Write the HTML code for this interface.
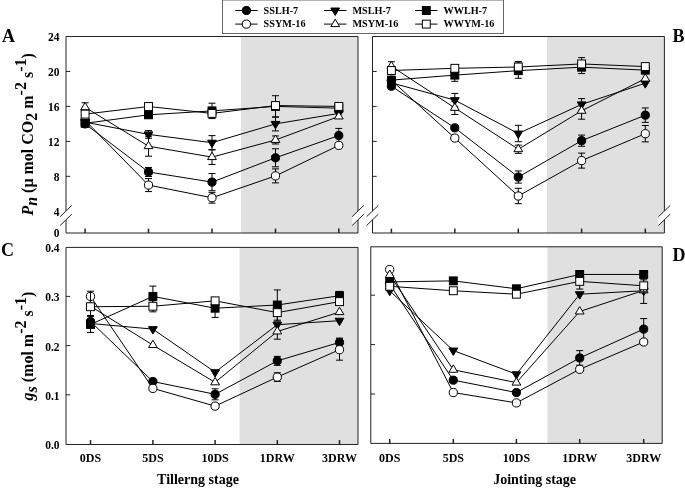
<!DOCTYPE html>
<html><head><meta charset="utf-8"><style>
html,body{margin:0;padding:0;background:#fff;}
svg{display:block;}
text{font-family:"Liberation Serif", serif;font-weight:bold;fill:#000;}
svg{will-change:transform;}
</style></head><body>
<svg width="685" height="488" viewBox="0 0 685 488">
<rect width="685" height="488" fill="#fff"/>
<rect x="222.5" y="0" width="281" height="33.5" fill="#fff" stroke="#666" stroke-width="1"/>
<path d="M235.20,10.50H257.60" stroke="#000" stroke-width="1"/>
<circle cx="246.40" cy="10.50" r="4.1" fill="#000" stroke="#000" stroke-width="1"/>
<text x="263.6" y="13.8" font-size="10.2" text-anchor="start" >SSLH-7</text>
<path d="M235.20,24.10H257.60" stroke="#000" stroke-width="1"/>
<circle cx="246.40" cy="24.10" r="4.1" fill="#fff" stroke="#000" stroke-width="1"/>
<text x="263.6" y="27.400000000000002" font-size="10.2" text-anchor="start" >SSYM-16</text>
<path d="M324.00,10.50H346.40" stroke="#000" stroke-width="1"/>
<path d="M330.80,8.03L339.60,8.03L335.20,15.43Z" fill="#000" stroke="#000" stroke-width="1" stroke-linejoin="miter"/>
<text x="352.4" y="13.8" font-size="10.2" text-anchor="start" >MSLH-7</text>
<path d="M324.00,24.10H346.40" stroke="#000" stroke-width="1"/>
<path d="M330.80,26.57L339.60,26.57L335.20,19.17Z" fill="#fff" stroke="#000" stroke-width="1" stroke-linejoin="miter"/>
<text x="352.4" y="27.400000000000002" font-size="10.2" text-anchor="start" >MSYM-16</text>
<path d="M415.10,10.50H437.50" stroke="#000" stroke-width="1"/>
<rect x="422.35" y="6.55" width="7.9" height="7.9" fill="#000" stroke="#000" stroke-width="1"/>
<text x="443.5" y="13.8" font-size="10.2" text-anchor="start" >WWLH-7</text>
<path d="M415.10,24.10H437.50" stroke="#000" stroke-width="1"/>
<rect x="422.35" y="20.15" width="7.9" height="7.9" fill="#fff" stroke="#000" stroke-width="1"/>
<text x="443.5" y="27.400000000000002" font-size="10.2" text-anchor="start" >WWYM-16</text>
<rect x="241" y="36.5" width="117.0" height="196.5" fill="#e0e0e0"/>
<path d="M66,36.5H358.0V233H66Z" fill="none" stroke="#222" stroke-width="1"/>
<path d="M85.10,233V228.6" stroke="#222" stroke-width="1.5"/>
<path d="M148.50,233V228.6" stroke="#222" stroke-width="1.5"/>
<path d="M212.00,233V228.6" stroke="#222" stroke-width="1.5"/>
<path d="M275.50,233V228.6" stroke="#222" stroke-width="1.5"/>
<path d="M338.80,233V228.6" stroke="#222" stroke-width="1.5"/>
<path d="M85.10,123.90L148.50,171.97L212.00,182.11L275.50,157.81L338.80,135.52" fill="none" stroke="#000" stroke-width="1"/>
<path d="M148.50,171.97V167.47M145.00,167.47H152.00" stroke="#000" stroke-width="1" fill="none"/>
<path d="M148.50,171.97V176.47M145.00,176.47H152.00" stroke="#000" stroke-width="1" fill="none"/>
<path d="M212.00,182.11V173.51M208.50,173.51H215.50" stroke="#000" stroke-width="1" fill="none"/>
<path d="M212.00,182.11V190.71M208.50,190.71H215.50" stroke="#000" stroke-width="1" fill="none"/>
<path d="M275.50,157.81V148.81M272.00,148.81H279.00" stroke="#000" stroke-width="1" fill="none"/>
<path d="M275.50,157.81V166.81M272.00,166.81H279.00" stroke="#000" stroke-width="1" fill="none"/>
<path d="M338.80,135.52V128.42M335.30,128.42H342.30" stroke="#000" stroke-width="1" fill="none"/>
<path d="M338.80,135.52V142.62M335.30,142.62H342.30" stroke="#000" stroke-width="1" fill="none"/>
<circle cx="85.10" cy="123.90" r="4.1" fill="#000" stroke="#000" stroke-width="1"/>
<circle cx="148.50" cy="171.97" r="4.1" fill="#000" stroke="#000" stroke-width="1"/>
<circle cx="212.00" cy="182.11" r="4.1" fill="#000" stroke="#000" stroke-width="1"/>
<circle cx="275.50" cy="157.81" r="4.1" fill="#000" stroke="#000" stroke-width="1"/>
<circle cx="338.80" cy="135.52" r="4.1" fill="#000" stroke="#000" stroke-width="1"/>
<path d="M85.10,120.40L148.50,185.08L212.00,197.75L275.50,175.90L338.80,145.40" fill="none" stroke="#000" stroke-width="1"/>
<path d="M148.50,185.08V178.58M145.00,178.58H152.00" stroke="#000" stroke-width="1" fill="none"/>
<path d="M148.50,185.08V191.58M145.00,191.58H152.00" stroke="#000" stroke-width="1" fill="none"/>
<path d="M212.00,197.75V192.35M208.50,192.35H215.50" stroke="#000" stroke-width="1" fill="none"/>
<path d="M212.00,197.75V203.15M208.50,203.15H215.50" stroke="#000" stroke-width="1" fill="none"/>
<path d="M275.50,175.90V168.90M272.00,168.90H279.00" stroke="#000" stroke-width="1" fill="none"/>
<path d="M275.50,175.90V182.90M272.00,182.90H279.00" stroke="#000" stroke-width="1" fill="none"/>
<circle cx="85.10" cy="120.40" r="4.1" fill="#fff" stroke="#000" stroke-width="1"/>
<circle cx="148.50" cy="185.08" r="4.1" fill="#fff" stroke="#000" stroke-width="1"/>
<circle cx="212.00" cy="197.75" r="4.1" fill="#fff" stroke="#000" stroke-width="1"/>
<circle cx="275.50" cy="175.90" r="4.1" fill="#fff" stroke="#000" stroke-width="1"/>
<circle cx="338.80" cy="145.40" r="4.1" fill="#fff" stroke="#000" stroke-width="1"/>
<path d="M85.10,122.15L148.50,134.39L212.00,142.69L275.50,123.90L338.80,113.41" fill="none" stroke="#000" stroke-width="1"/>
<path d="M148.50,134.39V130.59M145.00,130.59H152.00" stroke="#000" stroke-width="1" fill="none"/>
<path d="M148.50,134.39V138.19M145.00,138.19H152.00" stroke="#000" stroke-width="1" fill="none"/>
<path d="M212.00,142.69V135.64M208.50,135.64H215.50" stroke="#000" stroke-width="1" fill="none"/>
<path d="M212.00,142.69V149.74M208.50,149.74H215.50" stroke="#000" stroke-width="1" fill="none"/>
<path d="M275.50,123.90V116.90M272.00,116.90H279.00" stroke="#000" stroke-width="1" fill="none"/>
<path d="M275.50,123.90V130.90M272.00,130.90H279.00" stroke="#000" stroke-width="1" fill="none"/>
<path d="M80.70,119.69L89.50,119.69L85.10,127.09Z" fill="#000" stroke="#000" stroke-width="1" stroke-linejoin="miter"/>
<path d="M144.10,131.92L152.90,131.92L148.50,139.32Z" fill="#000" stroke="#000" stroke-width="1" stroke-linejoin="miter"/>
<path d="M207.60,140.22L216.40,140.22L212.00,147.62Z" fill="#000" stroke="#000" stroke-width="1" stroke-linejoin="miter"/>
<path d="M271.10,121.43L279.90,121.43L275.50,128.83Z" fill="#000" stroke="#000" stroke-width="1" stroke-linejoin="miter"/>
<path d="M334.40,110.95L343.20,110.95L338.80,118.35Z" fill="#000" stroke="#000" stroke-width="1" stroke-linejoin="miter"/>
<path d="M85.10,107.29L148.50,146.19L212.00,157.11L275.50,139.98L338.80,116.47" fill="none" stroke="#000" stroke-width="1"/>
<path d="M85.10,107.29V102.79M81.60,102.79H88.60" stroke="#000" stroke-width="1" fill="none"/>
<path d="M85.10,107.29V111.79M81.60,111.79H88.60" stroke="#000" stroke-width="1" fill="none"/>
<path d="M148.50,146.19V136.19M145.00,136.19H152.00" stroke="#000" stroke-width="1" fill="none"/>
<path d="M148.50,146.19V156.19M145.00,156.19H152.00" stroke="#000" stroke-width="1" fill="none"/>
<path d="M212.00,157.11V149.81M208.50,149.81H215.50" stroke="#000" stroke-width="1" fill="none"/>
<path d="M212.00,157.11V164.41M208.50,164.41H215.50" stroke="#000" stroke-width="1" fill="none"/>
<path d="M275.50,139.98V135.98M272.00,135.98H279.00" stroke="#000" stroke-width="1" fill="none"/>
<path d="M275.50,139.98V143.98M272.00,143.98H279.00" stroke="#000" stroke-width="1" fill="none"/>
<path d="M80.70,109.76L89.50,109.76L85.10,102.36Z" fill="#fff" stroke="#000" stroke-width="1" stroke-linejoin="miter"/>
<path d="M144.10,148.65L152.90,148.65L148.50,141.25Z" fill="#fff" stroke="#000" stroke-width="1" stroke-linejoin="miter"/>
<path d="M207.60,159.58L216.40,159.58L212.00,152.18Z" fill="#fff" stroke="#000" stroke-width="1" stroke-linejoin="miter"/>
<path d="M271.10,142.45L279.90,142.45L275.50,135.05Z" fill="#fff" stroke="#000" stroke-width="1" stroke-linejoin="miter"/>
<path d="M334.40,118.94L343.20,118.94L338.80,111.54Z" fill="#fff" stroke="#000" stroke-width="1" stroke-linejoin="miter"/>
<path d="M85.10,123.29L148.50,114.81L212.00,110.88L275.50,106.42L338.80,108.17" fill="none" stroke="#000" stroke-width="1"/>
<path d="M212.00,110.88V103.18M208.50,103.18H215.50" stroke="#000" stroke-width="1" fill="none"/>
<path d="M212.00,110.88V118.58M208.50,118.58H215.50" stroke="#000" stroke-width="1" fill="none"/>
<path d="M275.50,106.42V95.72M272.00,95.72H279.00" stroke="#000" stroke-width="1" fill="none"/>
<path d="M275.50,106.42V117.12M272.00,117.12H279.00" stroke="#000" stroke-width="1" fill="none"/>
<rect x="81.15" y="119.34" width="7.9" height="7.9" fill="#000" stroke="#000" stroke-width="1"/>
<rect x="144.55" y="110.86" width="7.9" height="7.9" fill="#000" stroke="#000" stroke-width="1"/>
<rect x="208.05" y="106.93" width="7.9" height="7.9" fill="#000" stroke="#000" stroke-width="1"/>
<rect x="271.55" y="102.47" width="7.9" height="7.9" fill="#000" stroke="#000" stroke-width="1"/>
<rect x="334.85" y="104.22" width="7.9" height="7.9" fill="#000" stroke="#000" stroke-width="1"/>
<path d="M85.10,114.11L148.50,106.51L212.00,113.41L275.50,105.55L338.80,106.42" fill="none" stroke="#000" stroke-width="1"/>
<rect x="81.15" y="110.16" width="7.9" height="7.9" fill="#fff" stroke="#000" stroke-width="1"/>
<rect x="144.55" y="102.56" width="7.9" height="7.9" fill="#fff" stroke="#000" stroke-width="1"/>
<rect x="208.05" y="109.46" width="7.9" height="7.9" fill="#fff" stroke="#000" stroke-width="1"/>
<rect x="271.55" y="101.60" width="7.9" height="7.9" fill="#fff" stroke="#000" stroke-width="1"/>
<rect x="334.85" y="102.47" width="7.9" height="7.9" fill="#fff" stroke="#000" stroke-width="1"/>
<rect x="547" y="36.5" width="117.39999999999998" height="196.5" fill="#e0e0e0"/>
<path d="M372.5,36.5H664.4V233H372.5Z" fill="none" stroke="#222" stroke-width="1"/>
<path d="M391.40,233V228.6" stroke="#222" stroke-width="1.5"/>
<path d="M454.80,233V228.6" stroke="#222" stroke-width="1.5"/>
<path d="M518.30,233V228.6" stroke="#222" stroke-width="1.5"/>
<path d="M581.60,233V228.6" stroke="#222" stroke-width="1.5"/>
<path d="M645.30,233V228.6" stroke="#222" stroke-width="1.5"/>
<path d="M391.40,86.23L454.80,127.83L518.30,177.04L581.60,140.68L645.30,115.16" fill="none" stroke="#000" stroke-width="1"/>
<path d="M518.30,177.04V170.94M514.80,170.94H521.80" stroke="#000" stroke-width="1" fill="none"/>
<path d="M518.30,177.04V183.14M514.80,183.14H521.80" stroke="#000" stroke-width="1" fill="none"/>
<path d="M581.60,140.68V135.08M578.10,135.08H585.10" stroke="#000" stroke-width="1" fill="none"/>
<path d="M581.60,140.68V146.28M578.10,146.28H585.10" stroke="#000" stroke-width="1" fill="none"/>
<path d="M645.30,115.16V107.96M641.80,107.96H648.80" stroke="#000" stroke-width="1" fill="none"/>
<path d="M645.30,115.16V122.36M641.80,122.36H648.80" stroke="#000" stroke-width="1" fill="none"/>
<circle cx="391.40" cy="86.23" r="4.1" fill="#000" stroke="#000" stroke-width="1"/>
<circle cx="454.80" cy="127.83" r="4.1" fill="#000" stroke="#000" stroke-width="1"/>
<circle cx="518.30" cy="177.04" r="4.1" fill="#000" stroke="#000" stroke-width="1"/>
<circle cx="581.60" cy="140.68" r="4.1" fill="#000" stroke="#000" stroke-width="1"/>
<circle cx="645.30" cy="115.16" r="4.1" fill="#000" stroke="#000" stroke-width="1"/>
<path d="M391.40,80.20L454.80,138.06L518.30,196.00L581.60,160.61L645.30,133.69" fill="none" stroke="#000" stroke-width="1"/>
<path d="M518.30,196.00V188.31M514.80,188.31H521.80" stroke="#000" stroke-width="1" fill="none"/>
<path d="M518.30,196.00V203.70M514.80,203.70H521.80" stroke="#000" stroke-width="1" fill="none"/>
<path d="M581.60,160.61V153.11M578.10,153.11H585.10" stroke="#000" stroke-width="1" fill="none"/>
<path d="M581.60,160.61V168.11M578.10,168.11H585.10" stroke="#000" stroke-width="1" fill="none"/>
<path d="M645.30,133.69V125.49M641.80,125.49H648.80" stroke="#000" stroke-width="1" fill="none"/>
<path d="M645.30,133.69V141.89M641.80,141.89H648.80" stroke="#000" stroke-width="1" fill="none"/>
<circle cx="391.40" cy="80.20" r="4.1" fill="#fff" stroke="#000" stroke-width="1"/>
<circle cx="454.80" cy="138.06" r="4.1" fill="#fff" stroke="#000" stroke-width="1"/>
<circle cx="518.30" cy="196.00" r="4.1" fill="#fff" stroke="#000" stroke-width="1"/>
<circle cx="581.60" cy="160.61" r="4.1" fill="#fff" stroke="#000" stroke-width="1"/>
<circle cx="645.30" cy="133.69" r="4.1" fill="#fff" stroke="#000" stroke-width="1"/>
<path d="M391.40,82.82L454.80,100.13L518.30,133.51L581.60,104.41L645.30,83.17" fill="none" stroke="#000" stroke-width="1"/>
<path d="M454.80,100.13V93.43M451.30,93.43H458.30" stroke="#000" stroke-width="1" fill="none"/>
<path d="M454.80,100.13V106.83M451.30,106.83H458.30" stroke="#000" stroke-width="1" fill="none"/>
<path d="M518.30,133.51V125.31M514.80,125.31H521.80" stroke="#000" stroke-width="1" fill="none"/>
<path d="M518.30,133.51V141.71M514.80,141.71H521.80" stroke="#000" stroke-width="1" fill="none"/>
<path d="M581.60,104.41V98.61M578.10,98.61H585.10" stroke="#000" stroke-width="1" fill="none"/>
<path d="M581.60,104.41V110.21M578.10,110.21H585.10" stroke="#000" stroke-width="1" fill="none"/>
<path d="M387.00,80.36L395.80,80.36L391.40,87.76Z" fill="#000" stroke="#000" stroke-width="1" stroke-linejoin="miter"/>
<path d="M450.40,97.66L459.20,97.66L454.80,105.06Z" fill="#000" stroke="#000" stroke-width="1" stroke-linejoin="miter"/>
<path d="M513.90,131.05L522.70,131.05L518.30,138.45Z" fill="#000" stroke="#000" stroke-width="1" stroke-linejoin="miter"/>
<path d="M577.20,101.94L586.00,101.94L581.60,109.34Z" fill="#000" stroke="#000" stroke-width="1" stroke-linejoin="miter"/>
<path d="M640.90,80.70L649.70,80.70L645.30,88.10Z" fill="#000" stroke="#000" stroke-width="1" stroke-linejoin="miter"/>
<path d="M391.40,66.22L454.80,107.91L518.30,149.25L581.60,110.79L645.30,78.63" fill="none" stroke="#000" stroke-width="1"/>
<path d="M391.40,66.22V61.72M387.90,61.72H394.90" stroke="#000" stroke-width="1" fill="none"/>
<path d="M391.40,66.22V70.72M387.90,70.72H394.90" stroke="#000" stroke-width="1" fill="none"/>
<path d="M454.80,107.91V101.31M451.30,101.31H458.30" stroke="#000" stroke-width="1" fill="none"/>
<path d="M454.80,107.91V114.51M451.30,114.51H458.30" stroke="#000" stroke-width="1" fill="none"/>
<path d="M518.30,149.25V145.15M514.80,145.15H521.80" stroke="#000" stroke-width="1" fill="none"/>
<path d="M518.30,149.25V153.35M514.80,153.35H521.80" stroke="#000" stroke-width="1" fill="none"/>
<path d="M581.60,110.79V102.39M578.10,102.39H585.10" stroke="#000" stroke-width="1" fill="none"/>
<path d="M581.60,110.79V119.19M578.10,119.19H585.10" stroke="#000" stroke-width="1" fill="none"/>
<path d="M387.00,68.68L395.80,68.68L391.40,61.28Z" fill="#fff" stroke="#000" stroke-width="1" stroke-linejoin="miter"/>
<path d="M450.40,110.37L459.20,110.37L454.80,102.97Z" fill="#fff" stroke="#000" stroke-width="1" stroke-linejoin="miter"/>
<path d="M513.90,151.71L522.70,151.71L518.30,144.31Z" fill="#fff" stroke="#000" stroke-width="1" stroke-linejoin="miter"/>
<path d="M577.20,113.26L586.00,113.26L581.60,105.86Z" fill="#fff" stroke="#000" stroke-width="1" stroke-linejoin="miter"/>
<path d="M640.90,81.09L649.70,81.09L645.30,73.69Z" fill="#fff" stroke="#000" stroke-width="1" stroke-linejoin="miter"/>
<path d="M391.40,80.11L454.80,75.13L518.30,70.67L581.60,67.18L645.30,70.15" fill="none" stroke="#000" stroke-width="1"/>
<path d="M454.80,75.13V68.93M451.30,68.93H458.30" stroke="#000" stroke-width="1" fill="none"/>
<path d="M454.80,75.13V81.33M451.30,81.33H458.30" stroke="#000" stroke-width="1" fill="none"/>
<path d="M518.30,70.67V63.07M514.80,63.07H521.80" stroke="#000" stroke-width="1" fill="none"/>
<path d="M518.30,70.67V78.27M514.80,78.27H521.80" stroke="#000" stroke-width="1" fill="none"/>
<path d="M581.60,67.18V60.78M578.10,60.78H585.10" stroke="#000" stroke-width="1" fill="none"/>
<path d="M581.60,67.18V73.58M578.10,73.58H585.10" stroke="#000" stroke-width="1" fill="none"/>
<rect x="387.45" y="76.16" width="7.9" height="7.9" fill="#000" stroke="#000" stroke-width="1"/>
<rect x="450.85" y="71.18" width="7.9" height="7.9" fill="#000" stroke="#000" stroke-width="1"/>
<rect x="514.35" y="66.72" width="7.9" height="7.9" fill="#000" stroke="#000" stroke-width="1"/>
<rect x="577.65" y="63.23" width="7.9" height="7.9" fill="#000" stroke="#000" stroke-width="1"/>
<rect x="641.35" y="66.20" width="7.9" height="7.9" fill="#000" stroke="#000" stroke-width="1"/>
<path d="M391.40,70.50L454.80,68.31L518.30,67.00L581.60,63.94L645.30,66.57" fill="none" stroke="#000" stroke-width="1"/>
<path d="M518.30,67.00V61.50M514.80,61.50H521.80" stroke="#000" stroke-width="1" fill="none"/>
<path d="M518.30,67.00V72.50M514.80,72.50H521.80" stroke="#000" stroke-width="1" fill="none"/>
<path d="M581.60,63.94V57.64M578.10,57.64H585.10" stroke="#000" stroke-width="1" fill="none"/>
<path d="M581.60,63.94V70.24M578.10,70.24H585.10" stroke="#000" stroke-width="1" fill="none"/>
<rect x="387.45" y="66.55" width="7.9" height="7.9" fill="#fff" stroke="#000" stroke-width="1"/>
<rect x="450.85" y="64.36" width="7.9" height="7.9" fill="#fff" stroke="#000" stroke-width="1"/>
<rect x="514.35" y="63.05" width="7.9" height="7.9" fill="#fff" stroke="#000" stroke-width="1"/>
<rect x="577.65" y="59.99" width="7.9" height="7.9" fill="#fff" stroke="#000" stroke-width="1"/>
<rect x="641.35" y="62.62" width="7.9" height="7.9" fill="#fff" stroke="#000" stroke-width="1"/>
<rect x="239.6" y="247.4" width="118.4" height="197.1" fill="#e0e0e0"/>
<path d="M66,247.4H358.0V444.5H66Z" fill="none" stroke="#222" stroke-width="1"/>
<path d="M90.50,444.5V440.1" stroke="#222" stroke-width="1.5"/>
<path d="M152.90,444.5V440.1" stroke="#222" stroke-width="1.5"/>
<path d="M215.10,444.5V440.1" stroke="#222" stroke-width="1.5"/>
<path d="M277.30,444.5V440.1" stroke="#222" stroke-width="1.5"/>
<path d="M339.50,444.5V440.1" stroke="#222" stroke-width="1.5"/>
<path d="M90.50,321.49L152.90,381.52L215.10,394.31L277.30,360.85L339.50,342.40" fill="none" stroke="#000" stroke-width="1"/>
<path d="M90.50,321.49V315.49M87.00,315.49H94.00" stroke="#000" stroke-width="1" fill="none"/>
<path d="M90.50,321.49V327.49M87.00,327.49H94.00" stroke="#000" stroke-width="1" fill="none"/>
<path d="M215.10,394.31V388.81M211.60,388.81H218.60" stroke="#000" stroke-width="1" fill="none"/>
<path d="M215.10,394.31V399.81M211.60,399.81H218.60" stroke="#000" stroke-width="1" fill="none"/>
<path d="M277.30,360.85V356.35M273.80,356.35H280.80" stroke="#000" stroke-width="1" fill="none"/>
<path d="M277.30,360.85V365.35M273.80,365.35H280.80" stroke="#000" stroke-width="1" fill="none"/>
<path d="M339.50,342.40V338.10M336.00,338.10H343.00" stroke="#000" stroke-width="1" fill="none"/>
<path d="M339.50,342.40V346.70M336.00,346.70H343.00" stroke="#000" stroke-width="1" fill="none"/>
<circle cx="90.50" cy="321.49" r="4.1" fill="#000" stroke="#000" stroke-width="1"/>
<circle cx="152.90" cy="381.52" r="4.1" fill="#000" stroke="#000" stroke-width="1"/>
<circle cx="215.10" cy="394.31" r="4.1" fill="#000" stroke="#000" stroke-width="1"/>
<circle cx="277.30" cy="360.85" r="4.1" fill="#000" stroke="#000" stroke-width="1"/>
<circle cx="339.50" cy="342.40" r="4.1" fill="#000" stroke="#000" stroke-width="1"/>
<path d="M90.50,296.40L152.90,388.40L215.10,406.12L277.30,377.09L339.50,349.68" fill="none" stroke="#000" stroke-width="1"/>
<path d="M277.30,377.09V372.79M273.80,372.79H280.80" stroke="#000" stroke-width="1" fill="none"/>
<path d="M277.30,377.09V381.39M273.80,381.39H280.80" stroke="#000" stroke-width="1" fill="none"/>
<path d="M339.50,349.68V339.18M336.00,339.18H343.00" stroke="#000" stroke-width="1" fill="none"/>
<path d="M339.50,349.68V360.18M336.00,360.18H343.00" stroke="#000" stroke-width="1" fill="none"/>
<circle cx="90.50" cy="296.40" r="4.1" fill="#fff" stroke="#000" stroke-width="1"/>
<circle cx="152.90" cy="388.40" r="4.1" fill="#fff" stroke="#000" stroke-width="1"/>
<circle cx="215.10" cy="406.12" r="4.1" fill="#fff" stroke="#000" stroke-width="1"/>
<circle cx="277.30" cy="377.09" r="4.1" fill="#fff" stroke="#000" stroke-width="1"/>
<circle cx="339.50" cy="349.68" r="4.1" fill="#fff" stroke="#000" stroke-width="1"/>
<path d="M90.50,323.46L152.90,329.12L215.10,372.17L277.30,324.69L339.50,320.70" fill="none" stroke="#000" stroke-width="1"/>
<path d="M86.10,320.99L94.90,320.99L90.50,328.39Z" fill="#000" stroke="#000" stroke-width="1" stroke-linejoin="miter"/>
<path d="M148.50,326.65L157.30,326.65L152.90,334.05Z" fill="#000" stroke="#000" stroke-width="1" stroke-linejoin="miter"/>
<path d="M210.70,369.70L219.50,369.70L215.10,377.10Z" fill="#000" stroke="#000" stroke-width="1" stroke-linejoin="miter"/>
<path d="M272.90,322.22L281.70,322.22L277.30,329.62Z" fill="#000" stroke="#000" stroke-width="1" stroke-linejoin="miter"/>
<path d="M335.10,318.24L343.90,318.24L339.50,325.64Z" fill="#000" stroke="#000" stroke-width="1" stroke-linejoin="miter"/>
<path d="M90.50,306.24L152.90,345.11L215.10,382.35L277.30,331.48L339.50,312.14" fill="none" stroke="#000" stroke-width="1"/>
<path d="M90.50,306.24V291.24M87.00,291.24H94.00" stroke="#000" stroke-width="1" fill="none"/>
<path d="M90.50,306.24V321.24M87.00,321.24H94.00" stroke="#000" stroke-width="1" fill="none"/>
<path d="M277.30,331.48V323.78M273.80,323.78H280.80" stroke="#000" stroke-width="1" fill="none"/>
<path d="M277.30,331.48V339.18M273.80,339.18H280.80" stroke="#000" stroke-width="1" fill="none"/>
<path d="M86.10,308.71L94.90,308.71L90.50,301.31Z" fill="#fff" stroke="#000" stroke-width="1" stroke-linejoin="miter"/>
<path d="M148.50,347.57L157.30,347.57L152.90,340.17Z" fill="#fff" stroke="#000" stroke-width="1" stroke-linejoin="miter"/>
<path d="M210.70,384.82L219.50,384.82L215.10,377.42Z" fill="#fff" stroke="#000" stroke-width="1" stroke-linejoin="miter"/>
<path d="M272.90,333.95L281.70,333.95L277.30,326.55Z" fill="#fff" stroke="#000" stroke-width="1" stroke-linejoin="miter"/>
<path d="M335.10,314.61L343.90,314.61L339.50,307.21Z" fill="#fff" stroke="#000" stroke-width="1" stroke-linejoin="miter"/>
<path d="M90.50,324.44L152.90,296.40L215.10,308.21L277.30,305.01L339.50,295.71" fill="none" stroke="#000" stroke-width="1"/>
<path d="M90.50,324.44V316.44M87.00,316.44H94.00" stroke="#000" stroke-width="1" fill="none"/>
<path d="M90.50,324.44V332.44M87.00,332.44H94.00" stroke="#000" stroke-width="1" fill="none"/>
<path d="M152.90,296.40V286.10M149.40,286.10H156.40" stroke="#000" stroke-width="1" fill="none"/>
<path d="M152.90,296.40V306.70M149.40,306.70H156.40" stroke="#000" stroke-width="1" fill="none"/>
<path d="M215.10,308.21V299.01M211.60,299.01H218.60" stroke="#000" stroke-width="1" fill="none"/>
<path d="M215.10,308.21V317.41M211.60,317.41H218.60" stroke="#000" stroke-width="1" fill="none"/>
<path d="M277.30,305.01V289.91M273.80,289.91H280.80" stroke="#000" stroke-width="1" fill="none"/>
<path d="M277.30,305.01V320.11M273.80,320.11H280.80" stroke="#000" stroke-width="1" fill="none"/>
<path d="M339.50,295.71V291.41M336.00,291.41H343.00" stroke="#000" stroke-width="1" fill="none"/>
<path d="M339.50,295.71V300.01M336.00,300.01H343.00" stroke="#000" stroke-width="1" fill="none"/>
<rect x="86.55" y="320.49" width="7.9" height="7.9" fill="#000" stroke="#000" stroke-width="1"/>
<rect x="148.95" y="292.45" width="7.9" height="7.9" fill="#000" stroke="#000" stroke-width="1"/>
<rect x="211.15" y="304.26" width="7.9" height="7.9" fill="#000" stroke="#000" stroke-width="1"/>
<rect x="273.35" y="301.06" width="7.9" height="7.9" fill="#000" stroke="#000" stroke-width="1"/>
<rect x="335.55" y="291.76" width="7.9" height="7.9" fill="#000" stroke="#000" stroke-width="1"/>
<path d="M90.50,306.73L152.90,306.24L215.10,300.83L277.30,312.64L339.50,301.62" fill="none" stroke="#000" stroke-width="1"/>
<path d="M152.90,306.24V300.64M149.40,300.64H156.40" stroke="#000" stroke-width="1" fill="none"/>
<path d="M152.90,306.24V311.84M149.40,311.84H156.40" stroke="#000" stroke-width="1" fill="none"/>
<path d="M277.30,312.64V304.14M273.80,304.14H280.80" stroke="#000" stroke-width="1" fill="none"/>
<path d="M277.30,312.64V321.14M273.80,321.14H280.80" stroke="#000" stroke-width="1" fill="none"/>
<rect x="86.55" y="302.78" width="7.9" height="7.9" fill="#fff" stroke="#000" stroke-width="1"/>
<rect x="148.95" y="302.29" width="7.9" height="7.9" fill="#fff" stroke="#000" stroke-width="1"/>
<rect x="211.15" y="296.88" width="7.9" height="7.9" fill="#fff" stroke="#000" stroke-width="1"/>
<rect x="273.35" y="308.69" width="7.9" height="7.9" fill="#fff" stroke="#000" stroke-width="1"/>
<rect x="335.55" y="297.67" width="7.9" height="7.9" fill="#fff" stroke="#000" stroke-width="1"/>
<rect x="547.4" y="246.8" width="114.80000000000007" height="196.59999999999997" fill="#e0e0e0"/>
<path d="M370.8,246.8H662.2V443.4H370.8Z" fill="none" stroke="#222" stroke-width="1"/>
<path d="M389.70,443.4V439.0" stroke="#222" stroke-width="1.5"/>
<path d="M453.30,443.4V439.0" stroke="#222" stroke-width="1.5"/>
<path d="M516.40,443.4V439.0" stroke="#222" stroke-width="1.5"/>
<path d="M579.70,443.4V439.0" stroke="#222" stroke-width="1.5"/>
<path d="M643.70,443.4V439.0" stroke="#222" stroke-width="1.5"/>
<path d="M389.70,284.33L453.30,380.17L516.40,392.52L579.70,357.94L643.70,329.09" fill="none" stroke="#000" stroke-width="1"/>
<path d="M579.70,357.94V350.64M576.20,350.64H583.20" stroke="#000" stroke-width="1" fill="none"/>
<path d="M579.70,357.94V365.24M576.20,365.24H583.20" stroke="#000" stroke-width="1" fill="none"/>
<path d="M643.70,329.09V318.59M640.20,318.59H647.20" stroke="#000" stroke-width="1" fill="none"/>
<path d="M643.70,329.09V339.59M640.20,339.59H647.20" stroke="#000" stroke-width="1" fill="none"/>
<circle cx="389.70" cy="284.33" r="4.1" fill="#000" stroke="#000" stroke-width="1"/>
<circle cx="453.30" cy="380.17" r="4.1" fill="#000" stroke="#000" stroke-width="1"/>
<circle cx="516.40" cy="392.52" r="4.1" fill="#000" stroke="#000" stroke-width="1"/>
<circle cx="579.70" cy="357.94" r="4.1" fill="#000" stroke="#000" stroke-width="1"/>
<circle cx="643.70" cy="329.09" r="4.1" fill="#000" stroke="#000" stroke-width="1"/>
<path d="M389.70,269.51L453.30,392.52L516.40,402.89L579.70,369.30L643.70,341.98" fill="none" stroke="#000" stroke-width="1"/>
<circle cx="389.70" cy="269.51" r="4.1" fill="#fff" stroke="#000" stroke-width="1"/>
<circle cx="453.30" cy="392.52" r="4.1" fill="#fff" stroke="#000" stroke-width="1"/>
<circle cx="516.40" cy="402.89" r="4.1" fill="#fff" stroke="#000" stroke-width="1"/>
<circle cx="579.70" cy="369.30" r="4.1" fill="#fff" stroke="#000" stroke-width="1"/>
<circle cx="643.70" cy="341.98" r="4.1" fill="#fff" stroke="#000" stroke-width="1"/>
<path d="M389.70,290.75L453.30,350.53L516.40,374.24L579.70,294.21L643.70,290.75" fill="none" stroke="#000" stroke-width="1"/>
<path d="M385.30,288.29L394.10,288.29L389.70,295.69Z" fill="#000" stroke="#000" stroke-width="1" stroke-linejoin="miter"/>
<path d="M448.90,348.06L457.70,348.06L453.30,355.46Z" fill="#000" stroke="#000" stroke-width="1" stroke-linejoin="miter"/>
<path d="M512.00,371.77L520.80,371.77L516.40,379.17Z" fill="#000" stroke="#000" stroke-width="1" stroke-linejoin="miter"/>
<path d="M575.30,291.75L584.10,291.75L579.70,299.15Z" fill="#000" stroke="#000" stroke-width="1" stroke-linejoin="miter"/>
<path d="M639.30,288.29L648.10,288.29L643.70,295.69Z" fill="#000" stroke="#000" stroke-width="1" stroke-linejoin="miter"/>
<path d="M389.70,274.95L453.30,369.79L516.40,382.64L579.70,311.50L643.70,290.41" fill="none" stroke="#000" stroke-width="1"/>
<path d="M643.70,290.41V277.41M640.20,277.41H647.20" stroke="#000" stroke-width="1" fill="none"/>
<path d="M643.70,290.41V303.41M640.20,303.41H647.20" stroke="#000" stroke-width="1" fill="none"/>
<path d="M385.30,277.41L394.10,277.41L389.70,270.01Z" fill="#fff" stroke="#000" stroke-width="1" stroke-linejoin="miter"/>
<path d="M448.90,372.26L457.70,372.26L453.30,364.86Z" fill="#fff" stroke="#000" stroke-width="1" stroke-linejoin="miter"/>
<path d="M512.00,385.10L520.80,385.10L516.40,377.70Z" fill="#fff" stroke="#000" stroke-width="1" stroke-linejoin="miter"/>
<path d="M575.30,313.97L584.10,313.97L579.70,306.57Z" fill="#fff" stroke="#000" stroke-width="1" stroke-linejoin="miter"/>
<path d="M639.30,292.87L648.10,292.87L643.70,285.47Z" fill="#fff" stroke="#000" stroke-width="1" stroke-linejoin="miter"/>
<path d="M389.70,281.86L453.30,280.87L516.40,288.78L579.70,274.45L643.70,274.45" fill="none" stroke="#000" stroke-width="1"/>
<rect x="385.75" y="277.91" width="7.9" height="7.9" fill="#000" stroke="#000" stroke-width="1"/>
<rect x="449.35" y="276.92" width="7.9" height="7.9" fill="#000" stroke="#000" stroke-width="1"/>
<rect x="512.45" y="284.83" width="7.9" height="7.9" fill="#000" stroke="#000" stroke-width="1"/>
<rect x="575.75" y="270.50" width="7.9" height="7.9" fill="#000" stroke="#000" stroke-width="1"/>
<rect x="639.75" y="270.50" width="7.9" height="7.9" fill="#000" stroke="#000" stroke-width="1"/>
<path d="M389.70,286.31L453.30,290.75L516.40,294.21L579.70,281.37L643.70,285.81" fill="none" stroke="#000" stroke-width="1"/>
<path d="M579.70,281.37V273.67M576.20,273.67H583.20" stroke="#000" stroke-width="1" fill="none"/>
<path d="M579.70,281.37V289.07M576.20,289.07H583.20" stroke="#000" stroke-width="1" fill="none"/>
<path d="M643.70,285.81V279.81M640.20,279.81H647.20" stroke="#000" stroke-width="1" fill="none"/>
<path d="M643.70,285.81V291.81M640.20,291.81H647.20" stroke="#000" stroke-width="1" fill="none"/>
<rect x="385.75" y="282.36" width="7.9" height="7.9" fill="#fff" stroke="#000" stroke-width="1"/>
<rect x="449.35" y="286.80" width="7.9" height="7.9" fill="#fff" stroke="#000" stroke-width="1"/>
<rect x="512.45" y="290.26" width="7.9" height="7.9" fill="#fff" stroke="#000" stroke-width="1"/>
<rect x="575.75" y="277.42" width="7.9" height="7.9" fill="#fff" stroke="#000" stroke-width="1"/>
<rect x="639.75" y="281.86" width="7.9" height="7.9" fill="#fff" stroke="#000" stroke-width="1"/>
<path d="M60.1,216.7L71.8,205.4L71.8,214.2L60.1,225.5Z" fill="#fff"/>
<path d="M60.1,216.7L71.8,205.4M60.1,225.5L71.8,214.2" stroke="#222" stroke-width="1"/>
<path d="M352.1,216.7L363.8,205.4L363.8,214.2L352.1,225.5Z" fill="#fff"/>
<path d="M352.1,216.7L363.8,205.4M352.1,225.5L363.8,214.2" stroke="#222" stroke-width="1"/>
<path d="M366.6,216.7L378.3,205.4L378.3,214.2L366.6,225.5Z" fill="#fff"/>
<path d="M366.6,216.7L378.3,205.4M366.6,225.5L378.3,214.2" stroke="#222" stroke-width="1"/>
<path d="M658.5,216.7L670.2,205.4L670.2,214.2L658.5,225.5Z" fill="#fff"/>
<path d="M658.5,216.7L670.2,205.4M658.5,225.5L670.2,214.2" stroke="#222" stroke-width="1"/>
<text x="59.5" y="40.9" font-size="11.5" text-anchor="end" >24</text>
<path d="M66,71.46H70.2M372.5,71.46H376.7" stroke="#222" stroke-width="1"/>
<text x="59.5" y="75.86000000000001" font-size="11.5" text-anchor="end" >20</text>
<path d="M66,106.42H70.2M372.5,106.42H376.7" stroke="#222" stroke-width="1"/>
<text x="59.5" y="110.82000000000001" font-size="11.5" text-anchor="end" >16</text>
<path d="M66,141.38H70.2M372.5,141.38H376.7" stroke="#222" stroke-width="1"/>
<text x="59.5" y="145.78" font-size="11.5" text-anchor="end" >12</text>
<path d="M66,176.34H70.2M372.5,176.34H376.7" stroke="#222" stroke-width="1"/>
<text x="59.5" y="180.74" font-size="11.5" text-anchor="end" >8</text>
<text x="59.5" y="215.70000000000002" font-size="11.5" text-anchor="end" >4</text>
<text x="59.5" y="237" font-size="11.5" text-anchor="end" >0</text>
<text x="59.5" y="252.2" font-size="11.5" text-anchor="end" >0.4</text>
<path d="M66,296.40H70.2" stroke="#222" stroke-width="1"/>
<text x="59.5" y="301.4" font-size="11.5" text-anchor="end" >0.3</text>
<path d="M66,345.60H70.2" stroke="#222" stroke-width="1"/>
<text x="59.5" y="350.6" font-size="11.5" text-anchor="end" >0.2</text>
<path d="M66,394.80H70.2" stroke="#222" stroke-width="1"/>
<text x="59.5" y="399.8" font-size="11.5" text-anchor="end" >0.1</text>
<text x="59.5" y="449.0" font-size="11.5" text-anchor="end" >0.0</text>
<path d="M370.8,295.20H375" stroke="#222" stroke-width="1"/>
<path d="M370.8,344.60H375" stroke="#222" stroke-width="1"/>
<path d="M370.8,394.00H375" stroke="#222" stroke-width="1"/>
<text x="90.5" y="461.7" font-size="12" text-anchor="middle" >0DS</text>
<text x="152.9" y="461.7" font-size="12" text-anchor="middle" >5DS</text>
<text x="215.1" y="461.7" font-size="12" text-anchor="middle" >10DS</text>
<text x="277.3" y="461.7" font-size="12" text-anchor="middle" >1DRW</text>
<text x="339.5" y="461.7" font-size="12" text-anchor="middle" >3DRW</text>
<text x="389.7" y="461.7" font-size="12" text-anchor="middle" >0DS</text>
<text x="453.3" y="461.7" font-size="12" text-anchor="middle" >5DS</text>
<text x="516.4" y="461.7" font-size="12" text-anchor="middle" >10DS</text>
<text x="579.7" y="461.7" font-size="12" text-anchor="middle" >1DRW</text>
<text x="643.7" y="461.7" font-size="12" text-anchor="middle" >3DRW</text>
<text x="198" y="484.4" font-size="14" text-anchor="middle" >Tillerng stage</text>
<text x="534.6" y="484.4" font-size="14" text-anchor="middle" >Jointing stage</text>
<text x="2" y="41.7" font-size="18" text-anchor="start" >A</text>
<text x="672.5" y="42" font-size="18" text-anchor="start" >B</text>
<text x="1" y="256" font-size="18" text-anchor="start" >C</text>
<text x="672.5" y="261" font-size="18" text-anchor="start" >D</text>
<text transform="translate(32.8,215.6) rotate(-90)" font-size="16"><tspan font-style="italic">P</tspan><tspan font-style="italic" dy="4.2">n</tspan><tspan dy="-4.2"> (μ mol CO</tspan><tspan dy="4.2">2</tspan><tspan dy="-4.2"> m</tspan><tspan dy="-7.2">-2</tspan><tspan dy="7.2"> s</tspan><tspan dy="-7.2">-1</tspan><tspan dy="7.2">)</tspan></text>
<text transform="translate(33.2,400.5) rotate(-90)" font-size="16"><tspan font-style="italic">g</tspan><tspan font-style="italic" dy="4.2">s</tspan><tspan dy="-4.2"> (mol m</tspan><tspan dy="-7.2">-2</tspan><tspan dy="7.2"> s</tspan><tspan dy="-7.2">-1</tspan><tspan dy="7.2">)</tspan></text>
</svg>
</body></html>
